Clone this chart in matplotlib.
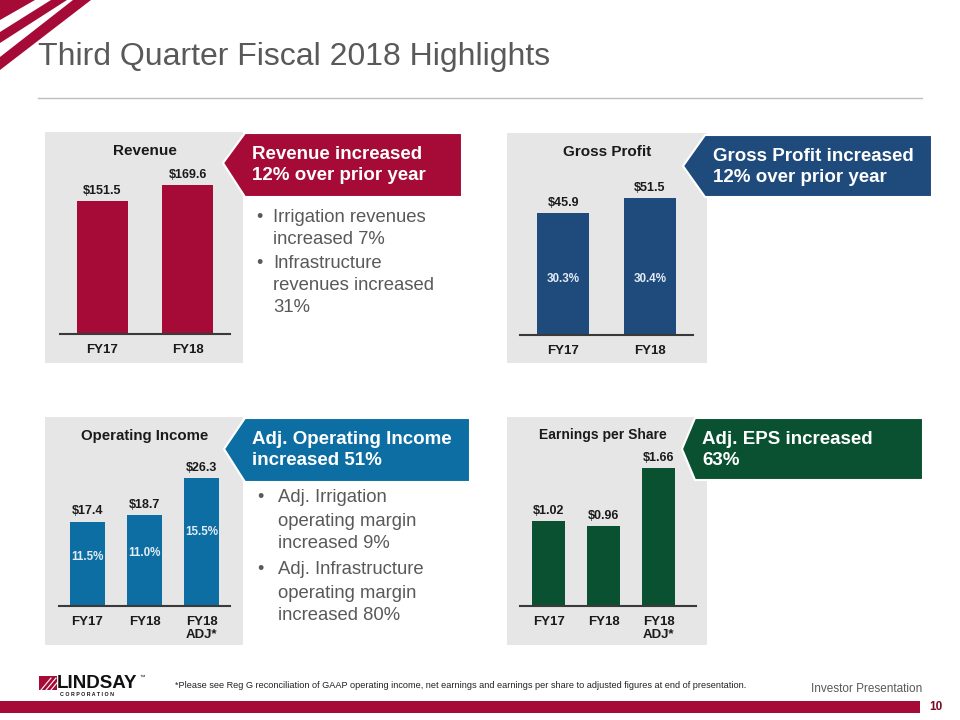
import matplotlib
matplotlib.use("Agg")
import matplotlib.pyplot as plt
from matplotlib.patches import Polygon, Rectangle

plt.rcParams['font.family'] = ['Liberation Sans', 'DejaVu Sans']

# ---------------- data ----------------
rev_cats = ["FY17", "FY18"]
rev_vals = [151.5, 169.6]
rev_labels = ["$151.5", "$169.6"]

gp_cats = ["FY17", "FY18"]
gp_vals = [45.9, 51.5]
gp_labels = ["$45.9", "$51.5"]
gp_margins = ["30.3%", "30.4%"]

op_cats = ["FY17", "FY18", "FY18\nADJ*"]
op_vals = [17.4, 18.7, 26.3]
op_labels = ["$17.4", "$18.7", "$26.3"]
op_margins = ["11.5%", "11.0%", "15.5%"]

eps_cats = ["FY17", "FY18", "FY18\nADJ*"]
eps_vals = [1.02, 0.96, 1.66]
eps_labels = ["$1.02", "$0.96", "$1.66"]

# ---------------- colours ----------------
RED = '#A50B36'
GPBLUE = '#1F4A7C'
OPBLUE = '#0C6EA3'
GREEN = '#0A5131'
PANEL = '#E6E6E6'
GRAY = '#595959'

W, H = 960, 720
fig = plt.figure(figsize=(9.6, 7.2), dpi=100)
bg = fig.add_axes([0, 0, 1, 1])
bg.set_xlim(0, W)
bg.set_ylim(H, 0)
bg.axis('off')

# top-left stripes
bg.add_patch(Polygon([(0, 0), (35, 0), (0, 20)], closed=True, color=RED, lw=0))
bg.add_patch(Polygon([(51, 0), (67, 0), (0, 43), (0, 32)], closed=True, color=RED, lw=0))
bg.add_patch(Polygon([(73, 0), (91, 0), (0, 70), (0, 57)], closed=True, color=RED, lw=0))

# title
bg.text(38, 57, "Third Quarter Fiscal 2018 Highlights", fontsize=23, color=GRAY,
        va='center', ha='left')
bg.plot([38, 922], [98, 98], color='#BFBFBF', lw=1)

# panels
for (x0, y0, x1, y1) in [(45, 132, 243, 363), (507, 133, 707, 363),
                         (45, 417, 243, 645), (507, 417, 707, 645)]:
    bg.add_patch(Rectangle((x0, y0), x1 - x0, y1 - y0, color=PANEL, lw=0, zorder=1))

# callouts
callouts = [
    ([(223, 163), (245, 133), (462, 133), (462, 197), (245, 197)], RED,
     252, 165, "Revenue increased\n12% over prior year"),
    ([(683, 166), (705, 135), (932, 135), (932, 197), (705, 197)], GPBLUE,
     713, 167, "Gross Profit increased\n12% over prior year"),
    ([(224, 449), (245, 418), (470, 418), (470, 482), (245, 482)], OPBLUE,
     252, 450, "Adj. Operating Income\nincreased 51%"),
    ([(682, 449), (695, 418), (923, 418), (923, 480), (695, 480)], GREEN,
     702, 450, "Adj. EPS increased\n63%"),
]
for pts, col, tx, ty, txt in callouts:
    bg.add_patch(Polygon(pts, closed=True, facecolor=col, edgecolor='white', lw=1.5, zorder=3))
    bg.text(tx, ty, txt, fontsize=13.5, fontweight='bold', color='white',
            va='center', ha='left', linespacing=1.3, zorder=4)

# bullet texts
rev_bullets = [(217, "Irrigation revenues", True), (239, "increased 7%", False),
               (263, "Infrastructure", True), (285, "revenues increased", False),
               (308, "31%", False)]
for y, t, b in rev_bullets:
    bg.text(273, y, t, fontsize=13.3, color=GRAY, va='center', ha='left', zorder=4)
    if b:
        bg.text(256, y, "\u2022", fontsize=13, color=GRAY, va='center', ha='left', zorder=4)

op_bullets = [(498, "Adj. Irrigation", True), (521, "operating margin", False),
              (544, "increased 9%", False), (570, "Adj. Infrastructure", True),
              (593, "operating margin", False), (615, "increased 80%", False)]
for y, t, b in op_bullets:
    bg.text(278, y, t, fontsize=13.3, color=GRAY, va='center', ha='left', zorder=4)
    if b:
        bg.text(257, y, "\u2022", fontsize=13, color=GRAY, va='center', ha='left', zorder=4)

# panel titles
bg.text(145, 151, "Revenue", fontsize=11, fontweight='bold', color='#1A1A1A', ha='center', va='center', zorder=4)
bg.text(607, 152, "Gross Profit", fontsize=11, fontweight='bold', color='#1A1A1A', ha='center', va='center', zorder=4)
bg.text(145, 436, "Operating Income", fontsize=10.8, fontweight='bold', color='#1A1A1A', ha='center', va='center', zorder=4)
bg.text(603, 435, "Earnings per Share", fontsize=10, fontweight='bold', color='#1A1A1A', ha='center', va='center', zorder=4)

# footer
bg.add_patch(Rectangle((0, 701), 920, 12, color=RED, lw=0))
bg.text(936, 707, "10", fontsize=8.5, fontweight='bold', color='#7A0A26', ha='center', va='center')
bg.text(922, 689, "Investor Presentation", fontsize=8.5, color=GRAY, ha='right', va='center')
bg.text(175, 686, "*Please see Reg G reconciliation of GAAP operating income, net earnings and earnings per share to adjusted figures at end of presentation.",
        fontsize=6.6, color='#222222', ha='left', va='center')
# logo
bg.add_patch(Rectangle((39, 676), 18, 14, color=RED, lw=0))
for k in range(3):
    bg.plot([41 + k * 5, 51 + k * 5], [690, 678], color='white', lw=0.8)
bg.text(57, 683.5, "LINDSAY", fontsize=13.5, fontweight='bold', color='#111111', ha='left', va='center')
bg.text(139, 677, "\u2122", fontsize=4, color='#111111', ha='left', va='center')
bg.text(60, 694, "C O R P O R A T I O N", fontsize=3.8, fontweight='bold', color='#111111', ha='left', va='center')


def px_axes(x0, y0, x1, y1):
    return fig.add_axes([x0 / W, 1 - y1 / H, (x1 - x0) / W, (y1 - y0) / H])


def bar_panel(box, cats, vals, labels, color, xlim, ylim, margins=None, mpos=None,
              mcolor='#E3ECF5'):
    ax = px_axes(*box)
    ax.set_facecolor('none')
    xs = list(range(len(cats)))
    ax.bar(xs, vals, width=0.6, color=color, zorder=2)
    ax.set_xlim(*xlim)
    ax.set_ylim(*ylim)
    for s in ['top', 'left', 'right']:
        ax.spines[s].set_visible(False)
    ax.spines['bottom'].set_color('#3A3A3A')
    ax.spines['bottom'].set_linewidth(1.5)
    ax.spines['bottom'].set_zorder(3)
    ax.set_yticks([])
    ax.set_xticks(xs)
    ax.set_xticklabels(cats, fontsize=9.5, fontweight='bold', color='#1A1A1A',
                       linespacing=1.15)
    ax.tick_params(axis='x', length=0, pad=7)
    for x, v, l in zip(xs, vals, labels):
        ax.annotate(l, (x, v), xytext=(0, 3), textcoords='offset points',
                    ha='center', va='bottom', fontsize=9, fontweight='bold',
                    color='#1A1A1A')
    if margins is not None:
        for x, v, m in zip(xs, vals, margins):
            ax.text(x, mpos(v), m, ha='center', va='center', fontsize=8.4,
                    fontweight='bold', color=mcolor, zorder=4)
    return ax


bar_panel((60, 134, 230, 334), rev_cats, rev_vals, rev_labels, RED,
          (-0.5, 1.5), (0, 200 / 0.878))
bar_panel((520, 135, 693, 335), gp_cats, gp_vals, gp_labels, GPBLUE,
          (-0.5, 1.5), (0, 200 / 2.66), margins=gp_margins, mpos=lambda v: 21.0)
bar_panel((59, 440, 230, 606), op_cats, op_vals, op_labels, OPBLUE,
          (-0.5, 2.5), (0, 166 / 4.85), margins=op_margins, mpos=lambda v: v * 0.58)
bar_panel((520, 440, 696, 606), eps_cats, eps_vals, eps_labels, GREEN,
          (-0.52, 2.68), (0, 166 / 83.2))

fig.savefig("out.png", dpi=100)
